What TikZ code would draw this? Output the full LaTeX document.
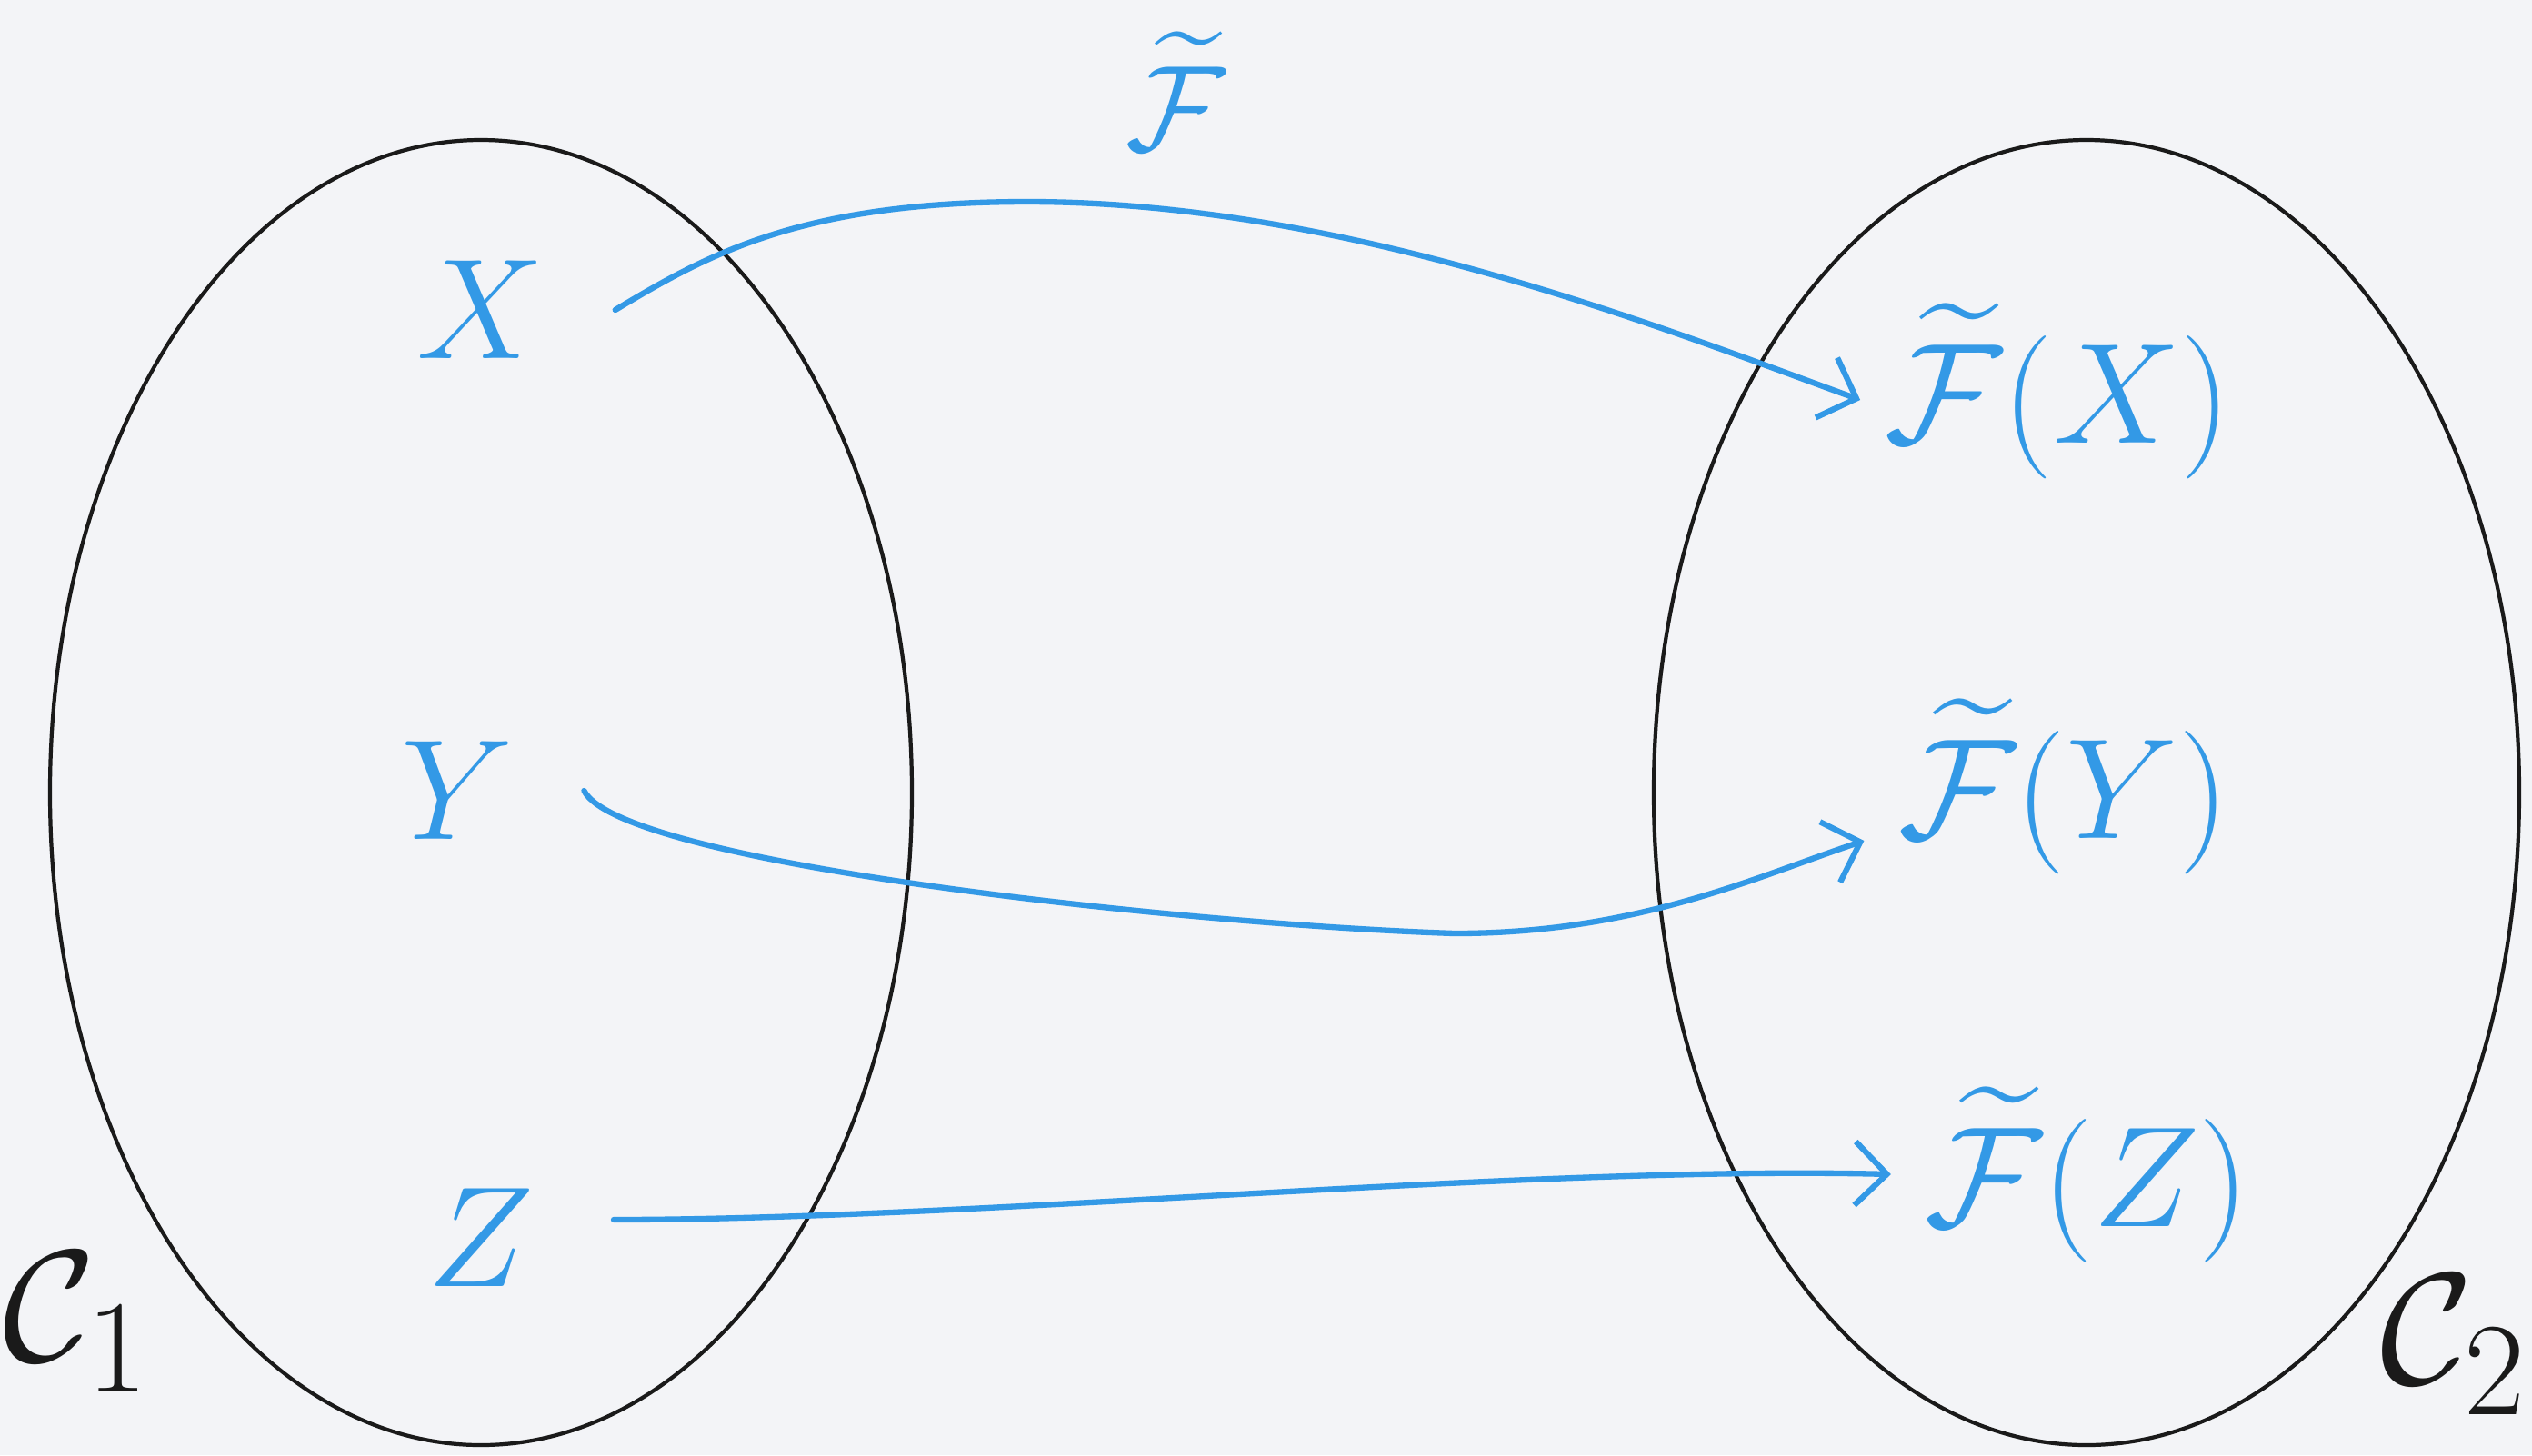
\documentclass[tikz,border=0pt]{standalone}
\usepackage{amsmath, amssymb}
\usepackage{xcolor}
\usepackage{tikz}
\usetikzlibrary{positioning,arrows.meta,calc,shapes.geometric}
\definecolor{mInkBlue}{HTML}{3399E6}
\definecolor{mInkBlack}{HTML}{1A1A1A}
\definecolor{mPaperBg}{HTML}{F3F4F7}

\begin{document}
\begin{tikzpicture}[x=1cm, y=1cm,
  setellipse/.style={draw=mInkBlack, ellipse, line width=1.2pt, inner sep=0pt},
  hand/.style={text=mInkBlue, inner sep=1pt, font=\Huge, scale=1.8},
  setname/.style={text=mInkBlack, inner sep=0pt, font=\Huge, scale=2},
  mapsto/.style={draw=mInkBlue, line width=1.8pt, line cap=round, -{Straight Barb[length=3.5mm,width=7mm,line width=1.8pt]}}]
\fill[mPaperBg] (0,0) rectangle (27.85,-16.01);
\useasboundingbox (0,0) rectangle (27.85,-16.01);
% the two categories
\node[setellipse, minimum width=9.48cm, minimum height=14.36cm] (C1) at (5.29,-8.72) {};
\node[setellipse, minimum width=9.52cm, minimum height=14.36cm] (C2) at (22.95,-8.72) {};
\node[setname] (C1lbl) at (0.85,-14.55) {$\mathcal{C}_1$};
\node[setname] (C2lbl) at (27.0,-14.8) {$\mathcal{C}_2$};
% objects and their images
\node[hand] (X) at (5.29,-3.41) {$X$};
\node[hand] (Y) at (5.03,-8.70) {$Y$};
\node[hand] (Z) at (5.29,-13.62) {$Z$};
\node[hand] (FX) at (22.64,-4.30) {$\widetilde{\mathcal{F}}(X)$};
\node[hand] (FY) at (22.70,-8.65) {$\widetilde{\mathcal{F}}(Y)$};
\node[hand] (FZ) at (22.96,-12.92) {$\widetilde{\mathcal{F}}(Z)$};
\node[hand, scale=0.85] (Flbl) at (12.93,-1.0) {$\widetilde{\mathcal{F}}$};
% the functor
\draw[mapsto] ([xshift=7mm]X.east) .. controls +(1,0.6) and +(-2.5,0) .. (11.3,-2.22)
  .. controls +(3.5,0) and +(-2.2,0.8) .. ([xshift=-2mm,yshift=-1mm]FX.west);
\draw[mapsto] ([xshift=7mm]Y.east) .. controls +(0.4,-0.8) and +(-3,0.1) .. (16,-10.27)
  .. controls +(2,0) and +(-1.2,-0.4) .. ([xshift=-3mm,yshift=-6mm]FY.west);
\draw[mapsto] ([xshift=8mm,yshift=2mm]Z.east) .. controls +(4,0) and +(-4,0.1) .. ([xshift=-3mm]FZ.west);
\end{tikzpicture}
\end{document}
